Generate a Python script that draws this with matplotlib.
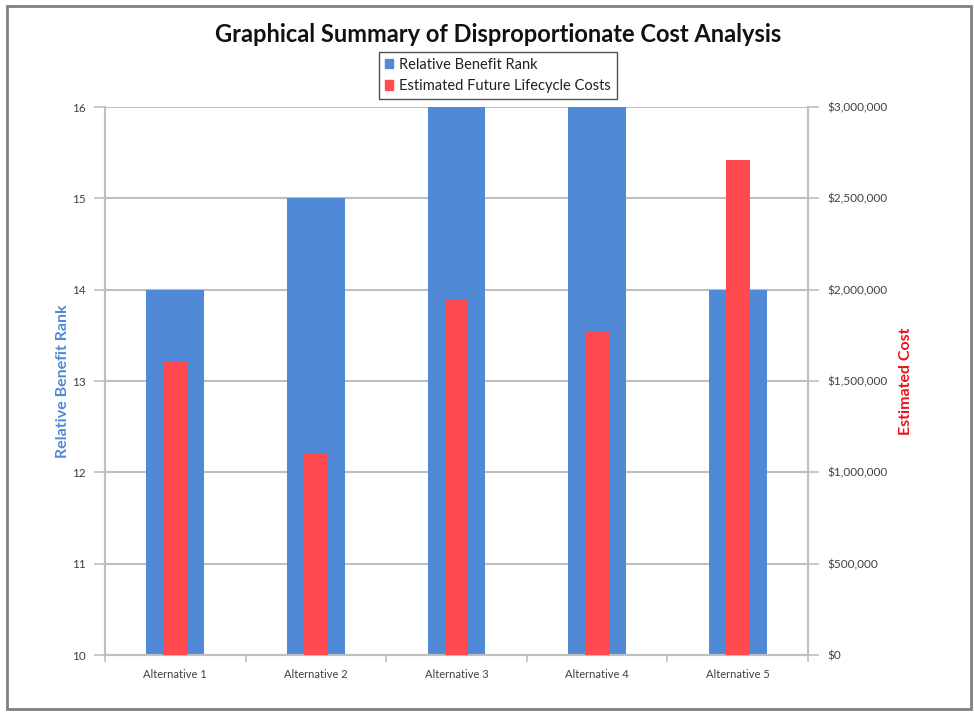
import matplotlib.pyplot as plt
from matplotlib.patches import Rectangle, Patch
from matplotlib.ticker import FuncFormatter

plt.rcParams['font.family'] = ['Lato', 'DejaVu Sans']

alternatives = ['Alternative 1', 'Alternative 2', 'Alternative 3', 'Alternative 4', 'Alternative 5']
benefit_rank = [14, 15, 16, 16, 14]
lifecycle_cost = [1610000, 1100000, 1950000, 1770000, 2710000]

blue = '#5089d6'
red = '#ff4a50'
grid_c = '#bfbfbf'
text_c = '#404040'

fig = plt.figure(figsize=(9.74, 7.12), dpi=100)
fig.patches.append(Rectangle((0.007, 0.004), 0.99, 0.987, transform=fig.transFigure,
                             fill=False, edgecolor='#808080', lw=2))

ax = fig.add_axes([0.1078, 0.080, 0.7218, 0.7697])
ax2 = ax.twinx()

x = list(range(len(alternatives)))
ax.bar(x, benefit_rank, width=0.41, color=blue, zorder=2)
ax2.bar(x, lifecycle_cost, width=0.17, color=red, zorder=3)

ax.set_ylim(10, 16)
ax.set_xlim(-0.5, len(alternatives) - 0.5)
ax2.set_ylim(0, 3000000)
ax2.set_yticks(range(0, 3000001, 500000))
ax2.yaxis.set_major_formatter(FuncFormatter(lambda v, p: '${:,.0f}'.format(v)))

ax.set_yticks(range(10, 17))
ax.yaxis.grid(True, color=grid_c, lw=1.5, zorder=0)
ax.set_axisbelow(True)

# category boundaries carry the x ticks, labels sit centred under the bars
ax.set_xticks([i - 0.5 for i in range(len(alternatives) + 1)])
ax.set_xticklabels([])
ax.set_xticks(x, minor=True)
ax.set_xticklabels(alternatives, minor=True)
ax.tick_params(axis='x', which='major', length=5, color=grid_c, width=1.2)
ax.tick_params(axis='x', which='minor', length=0, pad=10, labelsize=8, labelcolor=text_c)
ax.tick_params(axis='y', length=8, color=grid_c, width=1.2, labelsize=8.5, labelcolor=text_c, pad=6)
ax2.tick_params(axis='y', length=8, color=grid_c, width=1.2, labelsize=8.5, labelcolor=text_c, pad=6)

for a in (ax, ax2):
    a.spines['top'].set_visible(False)
    for s in ('left', 'right', 'bottom'):
        a.spines[s].set_color(grid_c)
        a.spines[s].set_linewidth(1.5)

ax.set_ylabel('Relative Benefit Rank', color=blue, fontsize=11.5, fontweight='bold', labelpad=1)
ax2.set_ylabel('Estimated Cost', color='#e8141c', fontsize=11.5, fontweight='bold', labelpad=8)

fig.suptitle('Graphical Summary of Disproportionate Cost Analysis', x=0.511, y=0.968,
             fontsize=17, fontweight='bold', color='#111111')

handles = [Patch(color=blue, label='Relative Benefit Rank'),
           Patch(color=red, label='Estimated Future Lifecycle Costs')]
leg = fig.legend(handles=handles, loc='center', bbox_to_anchor=(0.511, 0.894),
                 fontsize=10.5, frameon=True, fancybox=False, handlelength=0.6,
                 handleheight=0.6, handletextpad=0.4, borderpad=0.4, labelspacing=0.5,
                 borderaxespad=0)
leg.get_frame().set_edgecolor('#222222')
leg.get_frame().set_linewidth(1)
for t in leg.get_texts():
    t.set_color('#222222')

fig.savefig('out.png', dpi=100)
